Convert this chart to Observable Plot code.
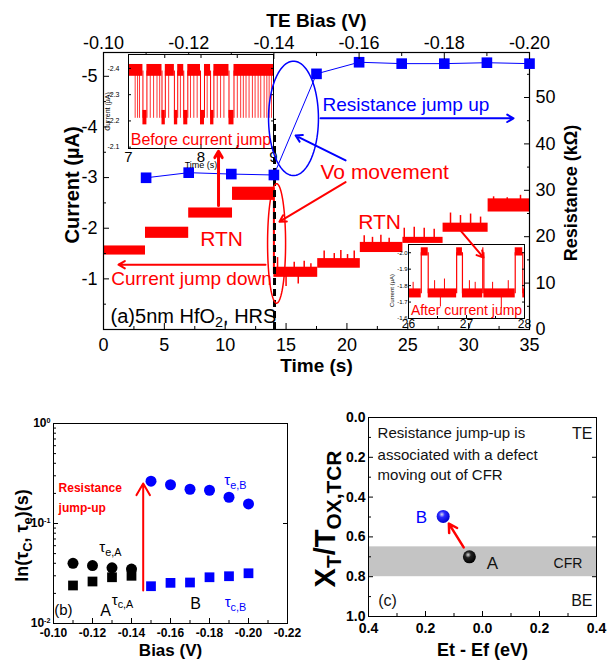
<!DOCTYPE html>
<html><head><meta charset="utf-8">
<script src="https://cdn.jsdelivr.net/npm/d3@7"></script>
<script src="https://cdn.jsdelivr.net/npm/@observablehq/plot@0.6"></script>
<style>
body{margin:0;background:#fff;}
#fig{position:relative;width:607px;height:660px;overflow:hidden;font-family:"Liberation Sans",Arial,sans-serif;}
#fig svg{position:absolute;overflow:visible;}
</style></head><body><div id="fig"></div>
<script>
// ================= DATA =================
// (a) current trace plateaus: time (s) and current band (µA)
const plateauStart = [0, 3.45, 7.0, 10.6, 14.0, 17.6, 21.1, 24.6, 27.9, 31.6];
const plateauEnd   = [3.45, 7.0, 10.6, 14.0, 17.6, 21.1, 24.6, 27.9, 31.6, 35.0];
const plateauLow   = [-1.47, -1.80, -2.20, -2.55, -1.03, -1.21, -1.52, -1.70, -1.92, -2.32];
const plateauHigh  = [-1.65, -2.02, -2.40, -2.81, -1.23, -1.40, -1.72, -1.82, -2.10, -2.58];
// (a) RTN spikes after the jump
const spikeTime = [14.30, 15.0, 15.67, 16.0, 16.49, 17.04, 18.13, 18.96, 19.50, 20.05, 20.60, 21.42, 22.10, 22.79, 23.47, 24.71, 25.53, 26.35, 27.17, 28.51, 29.33, 30.16, 30.98, 32.05, 33.17, 34.26];
const spikeBase = [-1.10, -1.05, -1.10, -1.05, -1.10, -1.12, -1.28, -1.28, -1.28, -1.28, -1.28, -1.60, -1.60, -1.60, -1.60, -1.75, -1.75, -1.75, -1.75, -2.00, -2.00, -2.00, -2.00, -2.40, -2.40, -2.40];
const spikeTop  = [-1.42, -0.85, -1.33, -0.90, -1.35, -1.30, -1.55, -1.50, -1.56, -1.48, -1.55, -1.85, -1.82, -1.86, -1.80, -2.00, -2.02, -2.00, -1.98, -2.30, -2.25, -2.28, -2.22, -2.62, -2.60, -2.65];
const jumpTime = 14.0;
const jumpFrom = -2.80, jumpTo = -1.10;
const dashedTop = -4.15;
// (a) resistance vs TE bias
const biasR = [-0.11, -0.12, -0.13, -0.14, -0.15, -0.16, -0.17, -0.18, -0.19, -0.20];
const resistance = [32.7, 33.8, 33.5, 33.3, 55.1, 57.6, 57.3, 57.3, 57.5, 57.3];
const biasTicks = [-0.10, -0.12, -0.14, -0.16, -0.18, -0.20];
const biasMinor = [-0.11, -0.13, -0.15, -0.17, -0.19];
const timeTicks = [0, 5, 10, 15, 20, 25, 30, 35];
const currentTicks = [-1, -2, -3, -4, -5];
const resTicks = [0, 10, 20, 30, 40, 50];

// inset "Before current jump" (7–9 s)
const beforeHighStart = [7.000, 7.254, 7.508, 7.679, 7.818, 8.048, 8.178, 8.455];
const beforeHighEnd   = [7.199, 7.462, 7.633, 7.762, 7.993, 8.132, 8.386, 9.000];
const beforeGlitch = [7.092, 7.125, 7.152, 7.300, 7.346, 7.393, 7.430, 7.554, 7.716, 7.855, 7.901, 7.947, 8.085, 8.224, 8.270, 8.316, 8.501, 8.547, 8.584, 8.621, 8.663, 8.709, 8.746, 8.788, 8.824, 8.871, 8.908, 8.940, 8.972];
const beforeLevels = [-2.21, -2.39];
// inset "After current jump" (26–28 s)
const afterHighStart = [26.22, 26.83, 27.28, 27.84];
const afterHighEnd   = [26.34, 26.93, 27.30, 27.97];
const afterGlitch = [26.08, 26.45, 26.55, 26.62, 27.05, 27.15, 27.45, 27.60, 27.72];
const afterGlitchTop = [-1.82, -1.83, -1.67, -1.84, -1.83, -1.82, -1.82, -1.66, -1.83];
const afterLevels = [-1.75, -2.00];

// (b) time constants
const biasA = [-0.11, -0.12, -0.13, -0.14];
const tauEA = [0.040, 0.038, 0.036, 0.035];
const tauCA = [0.024, 0.0263, 0.029, 0.030];
const biasB = [-0.15, -0.16, -0.17, -0.18, -0.19, -0.20];
const tauEB = [0.265, 0.244, 0.220, 0.215, 0.183, 0.157];
const tauCB = [0.0236, 0.0255, 0.0257, 0.029, 0.0297, 0.0318];
const biasTicksB = [-0.10, -0.12, -0.14, -0.16, -0.18, -0.20, -0.22];

// (c) defect positions
const defectName = ["A", "B"];
const defectE = [-0.046, -0.138];
const defectX = [0.70, 0.497];
const cfrBand = [0.65, 0.80];

// ================= HELPERS =================
const FONT = '"Liberation Sans", Arial, sans-serif';
const S = {fontFamily: FONT, background: "transparent", maxWidth: "none", overflow: "visible"};
const RED = "#ff0000", BLUE = "#0000ff";
const fig = document.getElementById("fig");
function place(svg, left, top) { svg.style.left = left + "px"; svg.style.top = top + "px"; fig.appendChild(svg); return svg; }
const NS = "http://www.w3.org/2000/svg";
// rebuild texts with sub/superscripts (call after the svg is in the DOM)
function rich(svg, map) {
  svg.querySelectorAll("text, tspan").forEach(el => {
    if (el.children.length) return;
    const segs = map[el.textContent];
    if (!segs) return;
    const fs = parseFloat(getComputedStyle(el).fontSize) || 12;
    el.textContent = "";
    let shift = 0;
    for (const [s, k] of segs) {
      const ts = document.createElementNS(NS, "tspan");
      ts.textContent = s;
      let target = 0, size = fs;
      if (k === "sub") { target = 0.22 * fs; size = 0.72 * fs; }
      if (k === "sup") { target = -0.38 * fs; size = 0.6 * fs; }
      ts.setAttribute("dy", (target - shift).toFixed(2));
      ts.style.fontSize = size.toFixed(2) + "px";
      shift = target;
      el.appendChild(ts);
    }
  });
}
const blank = () => "";

// ================= PANEL (a) =================
const plateaus = plateauStart.map((t0, i) => ({t0, t1: plateauEnd[i], lo: plateauLow[i], hi: plateauHigh[i]}));
const spikes = spikeTime.map((t, i) => ({t, b: spikeBase[i], u: spikeTop[i]}));
const A = {width: 607, height: 380, marginTop: 52, marginRight: 78, marginBottom: 51, marginLeft: 103};
const tDom = [0, 35], iDom = [0, -5.47];

const plotA = Plot.plot({
  ...A, style: S,
  x: {domain: tDom, label: null}, y: {domain: iDom, label: null},
  marks: [
    Plot.rect(plateaus, {x1: "t0", x2: "t1", y1: "lo", y2: "hi", fill: RED}),
    Plot.ruleX(spikes, {x: "t", y1: "b", y2: "u", stroke: RED, strokeWidth: 1.5}),
    Plot.ruleX([jumpTime], {y1: jumpFrom, y2: jumpTo, stroke: RED, strokeWidth: 2}),
    Plot.ruleX([jumpTime + 0.05], {y1: 0, y2: dashedTop, stroke: "black", strokeWidth: 3, strokeDasharray: "7,4"}),
    Plot.frame({stroke: "black", strokeWidth: 1.2}),
    Plot.axisX({anchor: "bottom", ticks: timeTicks, tickSize: -6, tickPadding: 15, tickFormat: d => String(d), fontSize: 18, label: null}),
    Plot.axisX({anchor: "bottom", ticks: timeTicks.slice(0, -1).map(d => d + 2.5), tickSize: -3, tickFormat: blank, label: null}),
    Plot.axisY({anchor: "left", ticks: currentTicks, tickSize: -6, tickPadding: 12, tickFormat: d => String(d), fontSize: 18, label: null}),
    Plot.axisY({anchor: "left", ticks: currentTicks.map(d => d + 0.5), tickSize: -3, tickFormat: blank, label: null}),
    Plot.text(["Time (s)"], {frameAnchor: "bottom", lineAnchor: "middle", dy: 36, fontSize: 19, fontWeight: "bold"}),
    Plot.text(["Current (µA)"], {frameAnchor: "left", textAnchor: "middle", dx: -31, dy: -6, rotate: -90, fontSize: 20, fontWeight: "bold"})
  ]
});
place(plotA, 0, 0);

const resPts = biasR.map((b, i) => ({b, r: resistance[i]}));
const plotB = Plot.plot({
  ...A, style: S,
  x: {domain: [-0.10, -0.20], label: null}, y: {domain: [0, 59.7], label: null},
  marks: [
    Plot.line(resPts, {x: "b", y: "r", stroke: BLUE, strokeWidth: 1}),
    Plot.dot(resPts, {x: "b", y: "r", symbol: "square", r: 6, fill: BLUE}),
    Plot.axisX({anchor: "top", ticks: biasTicks, tickSize: -6, tickPadding: 10, tickFormat: d => d.toFixed(2), fontSize: 18, label: null}),
    Plot.axisX({anchor: "top", ticks: biasMinor, tickSize: -3, tickFormat: blank, label: null}),
    Plot.axisY({anchor: "right", ticks: resTicks, tickSize: -6, tickPadding: 12, tickFormat: d => String(d), fontSize: 18, label: null}),
    Plot.axisY({anchor: "right", ticks: resTicks.map(d => d + 5), tickSize: -3, tickFormat: blank, label: null}),
    Plot.text(["TE Bias (V)"], {frameAnchor: "top", lineAnchor: "middle", dy: -32, fontSize: 19, fontWeight: "bold"}),
    Plot.text(["Resistance (kΩ)"], {frameAnchor: "right", textAnchor: "middle", dx: 42, dy: 2, rotate: -90, fontSize: 18, fontWeight: "bold"})
  ]
});
place(plotB, 0, 0);

// ---- inset 1 ----
const bHigh = beforeHighStart.map((s, i) => ({s, e: beforeHighEnd[i]}));
const bLow = beforeHighEnd.slice(0, -1).map((s, i) => ({s, e: beforeHighStart[i + 1]}));
const bEdges = beforeHighStart.slice(1).concat(beforeHighEnd.slice(0, -1));
const inset1 = Plot.plot({
  width: 180, height: 122, marginLeft: 28, marginRight: 7, marginTop: 4, marginBottom: 24, style: S,
  x: {domain: [7, 9], label: null}, y: {domain: [-2.095, -2.453], label: null},
  marks: [
    Plot.frame({fill: "white"}),
    Plot.ruleX(beforeGlitch, {x: d => d, y1: beforeLevels[0], y2: beforeLevels[1], stroke: RED, strokeWidth: 0.8}),
    Plot.ruleX(bEdges, {x: d => d, y1: beforeLevels[0], y2: beforeLevels[1], stroke: RED, strokeWidth: 1}),
    Plot.rect(bHigh, {x1: "s", x2: "e", y1: beforeLevels[1] + 0.02, y2: beforeLevels[1] - 0.025, fill: RED}),
    Plot.rect(bLow, {x1: "s", x2: "e", y1: beforeLevels[0] + 0.025, y2: beforeLevels[0] - 0.03, fill: RED}),
    Plot.frame({stroke: "black"}),
    Plot.axisX({anchor: "bottom", ticks: [7, 8, 9], tickSize: -4, tickPadding: 7, tickFormat: d => String(d), fontSize: 15, label: null}),
    Plot.axisX({anchor: "bottom", ticks: [7.5, 8.5], tickSize: -3, tickFormat: blank, label: null}),
    Plot.axisX({anchor: "top", ticks: [7.5, 8, 8.5], tickSize: -3, tickFormat: blank, label: null}),
    Plot.axisY({anchor: "left", ticks: [-2.4, -2.3, -2.2, -2.1], tickSize: -3, tickPadding: 12, tickFormat: d => d.toFixed(1), fontSize: 7, label: null}),
    Plot.axisY({anchor: "right", ticks: [-2.4, -2.3, -2.2, -2.1], tickSize: -3, tickFormat: blank, label: null}),
    Plot.text(["Time (s)"], {frameAnchor: "bottom", lineAnchor: "middle", dy: 17, fontSize: 9}),
    Plot.text(["Current (µA)"], {frameAnchor: "left", textAnchor: "middle", dx: -21, dy: 10, rotate: -90, fontSize: 7}),
    Plot.text(["Before current jump"], {x: 8.0, y: -2.129, fill: RED, fontSize: 16})
  ]
});
place(inset1, 100, 50);

// ---- inset 2 ----
const aHigh = afterHighStart.map((s, i) => ({s, e: afterHighEnd[i]}));
const aLow = [26].concat(afterHighEnd).map((s, i) => ({s, e: i < afterHighStart.length ? afterHighStart[i] : 28}));
const aEdges = afterHighStart.concat(afterHighEnd);
const aGl = afterGlitch.map((t, i) => ({t, u: afterGlitchTop[i]}));
const inset2 = Plot.plot({
  width: 150, height: 95, marginLeft: 28, marginRight: 6, marginTop: 4, marginBottom: 17, style: S,
  x: {domain: [26, 28], label: null}, y: {domain: [-1.6, -2.05], label: null},
  marks: [
    Plot.frame({fill: "white"}),
    Plot.ruleX(aEdges, {x: d => d, y1: afterLevels[0], y2: afterLevels[1], stroke: RED, strokeWidth: 1.2}),
    Plot.ruleX(aGl, {x: "t", y1: afterLevels[0], y2: "u", stroke: RED, strokeWidth: 1}),
    Plot.rect(aLow, {x1: "s", x2: "e", y1: afterLevels[0] + 0.025, y2: afterLevels[0] - 0.03, fill: RED}),
    Plot.rect(aHigh, {x1: "s", x2: "e", y1: afterLevels[1] + 0.02, y2: afterLevels[1] - 0.03, fill: RED}),
    Plot.frame({stroke: "black"}),
    Plot.axisX({anchor: "bottom", ticks: [26, 27, 28], tickSize: -3, tickPadding: 4, tickFormat: d => String(d), fontSize: 12, label: null}),
    Plot.axisX({anchor: "bottom", ticks: [26.5, 27.5], tickSize: -2, tickFormat: blank, label: null}),
    Plot.axisY({anchor: "left", ticks: [-2.0, -1.9, -1.8, -1.7, -1.6], tickSize: -3, tickPadding: 4, tickFormat: d => d.toFixed(1), fontSize: 6, label: null}),
    Plot.axisY({anchor: "right", ticks: [-2.0, -1.9, -1.8, -1.7, -1.6], tickSize: -3, tickFormat: blank, label: null}),
    Plot.text(["Current (µA)"], {frameAnchor: "left", textAnchor: "middle", dx: -16, dy: 9, rotate: -90, fontSize: 6}),
    Plot.text(["After current jump"], {x: 27.0, y: -1.649, fill: RED, fontSize: 14})
  ]
});
place(inset2, 380, 240);

// ---- annotations over panel (a) ----
const ellipses = [
  {cx: 15.61, cy: -4.17, rx: 2.05, ry: 1.13, c: BLUE},
  {cx: 14.22, cy: -1.70, rx: 0.74, ry: 1.18, c: RED}
];
const ellPts = ellipses.flatMap((e, k) => d3.range(0, 361, 4).map(a => ({k, c: e.c,
  x: e.cx + e.rx * Math.cos(a * Math.PI / 180), y: e.cy + e.ry * Math.sin(a * Math.PI / 180)})));
const arrowsA = [
  {x1: 17.83, y1: -4.17, x2: 33.69, y2: -4.17, c: BLUE, w: 2},
  {x1: 19.89, y1: -3.34, x2: 15.78, y2: -3.83, c: BLUE, w: 2},
  {x1: 19.89, y1: -2.91, x2: 14.46, y2: -2.13, c: RED, w: 2},
  {x1: 9.45, y1: -2.45, x2: 9.45, y2: -3.52, c: RED, w: 3},
  {x1: 13.31, y1: -1.28, x2: 1.23, y2: -1.28, c: RED, w: 2},
  {x1: 28.92, y1: -2.07, x2: 31.22, y2: -1.42, c: RED, w: 2}
];
const labelsA = [
  {t: "Resistance jump up", x: 17.99, y: -4.43, c: BLUE, s: 19, a: "start"},
  {t: "Vo movement", x: 17.83, y: -3.10, c: RED, s: 21, a: "start"},
  {t: "RTN", x: 22.68, y: -2.11, c: RED, s: 21, a: "middle"},
  {t: "RTN", x: 9.70, y: -1.78, c: RED, s: 21, a: "middle"},
  {t: "Current jump down", x: 7.23, y: -0.99, c: RED, s: 19, a: "middle"},
  {t: "(a)5nm HfO2, HRS", x: 0.58, y: -0.26, c: "black", s: 20, a: "start"}
];
const plotC = Plot.plot({
  ...A, style: S,
  x: {domain: tDom, axis: null}, y: {domain: iDom, axis: null},
  marks: [
    Plot.line(ellPts, {x: "x", y: "y", z: "k", stroke: "c", strokeWidth: 1.5}),
    Plot.arrow(arrowsA, {x1: "x1", y1: "y1", x2: "x2", y2: "y2", stroke: "c", strokeWidth: "w", headLength: 11}),
    ...labelsA.map(l => Plot.text([l], {x: "x", y: "y", text: "t", fill: l.c, fontSize: l.s, textAnchor: l.a}))
  ]
});
place(plotC, 0, 0);
rich(plotC, {"(a)5nm HfO2, HRS": [["(a)5nm HfO", null], ["2", "sub"], [", HRS", null]]});

// ================= PANEL (b) =================
const ptsEA = biasA.map((b, i) => ({b, v: tauEA[i]}));
const ptsCA = biasA.map((b, i) => ({b, v: tauCA[i]}));
const ptsEB = biasB.map((b, i) => ({b, v: tauEB[i]}));
const ptsCB = biasB.map((b, i) => ({b, v: tauCB[i]}));
const logMinor = [0.02, 0.03, 0.04, 0.05, 0.06, 0.07, 0.08, 0.09, 0.2, 0.3, 0.4, 0.5, 0.6, 0.7, 0.8, 0.9];
const labelsB = [
  {t: "Resistance", x: -0.1026, y: 0.224, c: RED, s: 12, w: "bold", a: "start"},
  {t: "jump-up", x: -0.1026, y: 0.141, c: RED, s: 12, w: "bold", a: "start"},
  {t: "τe,A", x: -0.1292, y: 0.0575, c: "black", s: 15, w: "normal", a: "middle"},
  {t: "A", x: -0.1267, y: 0.0135, c: "black", s: 16, w: "normal", a: "middle"},
  {t: "τc,A", x: -0.1354, y: 0.0172, c: "black", s: 15, w: "normal", a: "middle"},
  {t: "(b)", x: -0.1051, y: 0.0135, c: "black", s: 15, w: "normal", a: "middle"},
  {t: "B", x: -0.1728, y: 0.0158, c: "black", s: 16, w: "normal", a: "middle"},
  {t: "τc,B", x: -0.1933, y: 0.0162, c: BLUE, s: 15, w: "normal", a: "middle"},
  {t: "τe,B", x: -0.1933, y: 0.269, c: BLUE, s: 15, w: "normal", a: "middle"}
];
const plotBb = Plot.plot({
  width: 300, height: 280, marginLeft: 53, marginRight: 13, marginTop: 43, marginBottom: 37, style: S,
  x: {domain: [-0.10, -0.22], label: null}, y: {type: "log", domain: [0.01, 1], label: null},
  marks: [
    Plot.frame({stroke: "black"}),
    Plot.axisX({anchor: "bottom", ticks: biasTicksB, tickSize: -5, tickPadding: 10, tickFormat: d => d.toFixed(2), fontSize: 12, fontWeight: "bold", label: null}),
    Plot.axisX({anchor: "bottom", ticks: biasTicksB.slice(0, -1).map(d => d - 0.01), tickSize: -3, tickFormat: blank, label: null}),
    Plot.axisY({anchor: "left", ticks: [0.01, 0.1, 1], tickSize: -5, tickPadding: 8, tickFormat: d => "10^" + Math.round(Math.log10(d)), fontSize: 12, fontWeight: "bold", label: null}),
    Plot.axisY({anchor: "left", ticks: logMinor, tickSize: -3, tickFormat: blank, label: null}),
    Plot.axisY({anchor: "right", ticks: [0.1], tickSize: -5, tickFormat: blank, label: null}),
    Plot.dot(ptsEA, {x: "b", y: "v", r: 5.5, fill: "black"}),
    Plot.dot(ptsCA, {x: "b", y: "v", r: 5.5, symbol: "square", fill: "black"}),
    Plot.dot(ptsEB, {x: "b", y: "v", r: 5.5, fill: BLUE}),
    Plot.dot(ptsCB, {x: "b", y: "v", r: 5.5, symbol: "square", fill: BLUE}),
    Plot.arrow([{x: -0.146, a: 0.0214, z: 0.251}], {x1: "x", y1: "a", x2: "x", y2: "z", stroke: RED, strokeWidth: 2, headLength: 10}),
    ...labelsB.map(l => Plot.text([l], {x: "x", y: "y", text: "t", fill: l.c, fontSize: l.s, fontWeight: l.w, textAnchor: l.a})),
    Plot.text(["Bias (V)"], {frameAnchor: "bottom", lineAnchor: "middle", dy: 27, fontSize: 17, fontWeight: "bold"}),
    Plot.text(["ln(τC, τe)(s)"], {frameAnchor: "left", textAnchor: "middle", dx: -31, dy: 12, rotate: -90, fontSize: 18, fontWeight: "bold"})
  ]
});
place(plotBb, 0, 380);
rich(plotBb, {
  "10^0": [["10", null], ["0", "sup"]],
  "10^-1": [["10", null], ["-1", "sup"]],
  "10^-2": [["10", null], ["-2", "sup"]],
  "ln(τC, τe)(s)": [["ln(τ", null], ["C", "sub"], [", τ", null], ["e", "sub"], [")(s)", null]],
  "τe,A": [["τ", null], ["e,A", "sub"]],
  "τc,A": [["τ", null], ["c,A", "sub"]],
  "τc,B": [["τ", null], ["c,B", "sub"]],
  "τe,B": [["τ", null], ["e,B", "sub"]]
});

// ================= PANEL (c) =================
const defects = defectName.map((n, i) => ({n, e: defectE[i], x: defectX[i]}));
const labelsC = [
  {t: "Resistance jump-up is", x: -0.368, y: 0.080, c: "#111", s: 15, a: "start"},
  {t: "associated with a defect", x: -0.368, y: 0.188, c: "#111", s: 15, a: "start"},
  {t: "moving out of CFR", x: -0.368, y: 0.291, c: "#111", s: 15, a: "start"},
  {t: "TE", x: 0.386, y: 0.080, c: "#111", s: 16, a: "end"},
  {t: "BE", x: 0.386, y: 0.92, c: "#111", s: 16, a: "end"},
  {t: "CFR", x: 0.30, y: 0.734, c: "#111", s: 14, a: "middle"},
  {t: "A", x: 0.035, y: 0.734, c: "#111", s: 17, a: "middle"},
  {t: "B", x: -0.214, y: 0.503, c: BLUE, s: 17, a: "middle"},
  {t: "(c)", x: -0.333, y: 0.92, c: "#111", s: 16, a: "middle"}
];
const plotCc = Plot.plot({
  width: 307, height: 280, marginLeft: 68, marginRight: 11, marginTop: 37, marginBottom: 44, style: S,
  x: {domain: [-0.4, 0.4], label: null}, y: {domain: [0, 1], reverse: true, label: null},
  marks: [
    Plot.rect([cfrBand], {x1: -0.4, x2: 0.4, y1: d => d[0], y2: d => d[1], fill: "#c4c4c4"}),
    Plot.frame({stroke: "black"}),
    Plot.axisX({anchor: "bottom", ticks: [-0.4, -0.2, 0, 0.2, 0.4], tickSize: -5, tickPadding: 12, tickFormat: d => Math.abs(d).toFixed(1), fontSize: 14, fontWeight: "bold", label: null}),
    Plot.axisX({anchor: "bottom", ticks: [-0.3, -0.1, 0.1, 0.3], tickSize: -3, tickFormat: blank, label: null}),
    Plot.axisY({anchor: "left", ticks: [0, 0.2, 0.4, 0.6, 0.8, 1.0], tickSize: -5, tickPadding: 8, tickFormat: d => d.toFixed(1), fontSize: 14, fontWeight: "bold", label: null}),
    Plot.axisY({anchor: "left", ticks: [0.1, 0.3, 0.5, 0.7, 0.9], tickSize: -3, tickFormat: blank, label: null}),
    Plot.axisY({anchor: "right", ticks: [0.2, 0.4, 0.6, 0.8], tickSize: -5, tickFormat: blank, label: null}),
    Plot.arrow([{a: defects[0], b: defects[1]}], {x1: d => -0.066, y1: d => 0.653, x2: d => -0.118, y2: d => 0.533, stroke: RED, strokeWidth: 2.5, headLength: 8}),
    Plot.dot(defects, {x: "e", y: "x", r: 6.5, fill: d => d.n === "A" ? "url(#gA)" : "url(#gB)"}),
    ...labelsC.map(l => Plot.text([l], {x: "x", y: "y", text: "t", fill: l.c, fontSize: l.s, textAnchor: l.a})),
    Plot.text(["Et - Ef (eV)"], {frameAnchor: "bottom", lineAnchor: "middle", dy: 34, fontSize: 18, fontWeight: "bold"}),
    Plot.text(["XT/TOX,TCR"], {frameAnchor: "left", textAnchor: "middle", dx: -43, dy: 2, rotate: -90, fontSize: 29, fontWeight: "bold"})
  ]
});
plotCc.insertAdjacentHTML("afterbegin",
  '<defs><radialGradient id="gA" cx="0.4" cy="0.35" r="0.65"><stop offset="0" stop-color="#ddd"/><stop offset="0.35" stop-color="#222"/><stop offset="1" stop-color="#000"/></radialGradient>' +
  '<radialGradient id="gB" cx="0.4" cy="0.35" r="0.65"><stop offset="0" stop-color="#dde"/><stop offset="0.35" stop-color="#2a2aff"/><stop offset="1" stop-color="#0000cc"/></radialGradient></defs>');
place(plotCc, 300, 380);
rich(plotCc, {"XT/TOX,TCR": [["X", null], ["T", "sub"], ["/T", null], ["OX,TCR", "sub"]]});
</script></body></html>
